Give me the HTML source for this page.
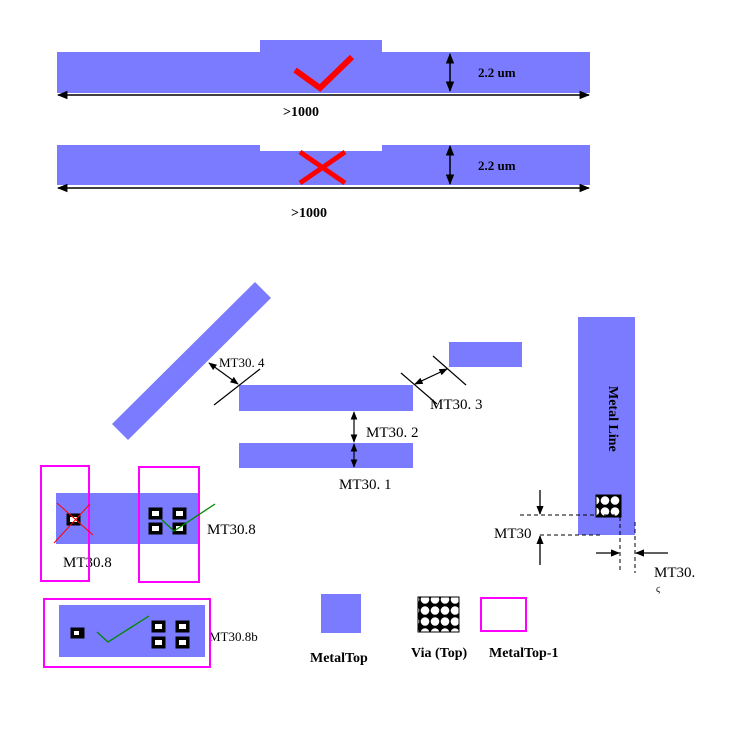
<!DOCTYPE html>
<html><head><meta charset="utf-8"><style>
html,body{margin:0;padding:0;background:#fff;width:730px;height:733px;overflow:hidden}
svg{display:block}
text{font-family:"Liberation Serif",serif}
</style></head><body>
<svg width="730" height="733" viewBox="0 0 730 733" xmlns="http://www.w3.org/2000/svg">
<defs>
<marker id="a" viewBox="0 0 10 10" refX="9" refY="5" markerWidth="7" markerHeight="7" orient="auto-start-reverse"><path d="M0,1 L10,5 L0,9 z" fill="#000"/></marker>
<pattern id="via" x="0" y="0" width="10" height="11" patternUnits="userSpaceOnUse"><rect width="10" height="11" fill="#000"/><circle cx="5" cy="5.5" r="4.3" fill="#fff"/></pattern>
</defs>
<g fill="#7b7bff">
<rect x="57" y="52" width="533" height="41"/>
<rect x="260" y="40" width="122" height="13"/>
<rect x="57" y="145" width="533" height="40"/>
<polygon points="112,424 255,282 271,298 128,440"/>
<rect x="239" y="385" width="174" height="26"/>
<rect x="239" y="443" width="174" height="25"/>
<rect x="449" y="342" width="73" height="25"/>
<rect x="578" y="317" width="57" height="218"/>
<rect x="56" y="493" width="144" height="51"/>
<rect x="59" y="605" width="146" height="52"/>
<rect x="321" y="594" width="40" height="39"/>
</g>
<rect x="260" y="145" width="122" height="6" fill="#fff"/>
<polyline points="295,70 320,88 352,57" fill="none" stroke="#f00" stroke-width="6"/>
<line x1="300" y1="152" x2="345" y2="183" stroke="#f00" stroke-width="5"/>
<line x1="300" y1="183" x2="345" y2="152" stroke="#f00" stroke-width="5"/>
<g stroke="#000" stroke-width="1.5" fill="none">
<line x1="450" y1="54" x2="450" y2="91" marker-start="url(#a)" marker-end="url(#a)"/>
<line x1="58" y1="95" x2="589" y2="95" marker-start="url(#a)" marker-end="url(#a)"/>
<line x1="450" y1="146" x2="450" y2="184" marker-start="url(#a)" marker-end="url(#a)"/>
<line x1="58" y1="188" x2="589" y2="188" marker-start="url(#a)" marker-end="url(#a)"/>
</g>
<g font-weight="bold" font-size="13" fill="#000">
<text x="478" y="77">2.2 um</text><text x="478" y="170">2.2 um</text>
<text x="283" y="116" font-size="14">&gt;1000</text><text x="291" y="217" font-size="14">&gt;1000</text>
</g>
<g stroke="#000" stroke-width="1.2" fill="none">
<line x1="214" y1="405" x2="260" y2="369"/>
<line x1="209" y1="363" x2="238" y2="384" marker-start="url(#a)" marker-end="url(#a)"/>
<line x1="401" y1="373" x2="437" y2="404"/>
<line x1="433" y1="356" x2="466" y2="385"/>
<line x1="415" y1="384" x2="447" y2="369" marker-start="url(#a)" marker-end="url(#a)"/>
<line x1="354" y1="412" x2="354" y2="442" marker-start="url(#a)" marker-end="url(#a)"/>
<line x1="354" y1="444" x2="354" y2="467" marker-start="url(#a)" marker-end="url(#a)"/>
</g>
<g font-size="15" fill="#000">
<text x="219" y="367" font-size="13">MT30. 4</text>
<text x="430" y="409">MT30. 3</text>
<text x="366" y="437">MT30. 2</text>
<text x="339" y="489">MT30. 1</text>
<text x="207" y="534">MT30.8</text>
<text x="63" y="567">MT30.8</text>
<text x="209" y="641" font-size="13">MT30.8b</text>
<text x="494" y="538">MT30</text>
<text x="654" y="577">MT30.</text>
<text x="656" y="592" font-size="10">ϛ</text>
</g>
<text x="0" y="0" font-size="14" font-weight="bold" fill="#000" transform="translate(609,386) rotate(90)">Metal Line</text>
<rect x="596" y="495" width="25" height="22" fill="url(#via)" stroke="#000"/>
<g stroke="#000" stroke-width="1" stroke-dasharray="4,3" fill="none">
<line x1="520" y1="515" x2="620" y2="515"/><line x1="540" y1="535" x2="600" y2="535"/>
<line x1="620" y1="517" x2="620" y2="573"/><line x1="635" y1="522" x2="635" y2="573"/>
</g>
<g stroke="#000" stroke-width="1.3" fill="none">
<line x1="540" y1="490" x2="540" y2="514" marker-end="url(#a)"/>
<line x1="540" y1="565" x2="540" y2="536" marker-end="url(#a)"/>
<line x1="596" y1="553" x2="619" y2="553" marker-end="url(#a)"/>
<line x1="668" y1="553" x2="636" y2="553" marker-end="url(#a)"/>
</g>
<g fill="none" stroke="#f0f" stroke-width="2">
<rect x="41" y="466" width="48" height="115"/>
<rect x="139" y="467" width="60" height="115"/>
<rect x="44" y="599" width="166" height="68"/>
<rect x="481" y="598" width="45" height="33"/>
</g>
<g fill="#000" stroke="#000">
<rect x="67" y="514" width="13" height="11"/>
<rect x="149" y="508" width="13" height="11"/><rect x="173" y="508" width="13" height="11"/>
<rect x="149" y="523" width="13" height="11"/><rect x="173" y="523" width="13" height="11"/>
<rect x="71" y="628" width="13" height="10"/>
<rect x="152" y="621" width="13" height="11"/><rect x="176" y="621" width="13" height="11"/>
<rect x="152" y="637" width="13" height="11"/><rect x="176" y="637" width="13" height="11"/>
</g>
<g fill="#fff">
<rect x="70" y="517" width="7" height="5"/>
<rect x="152" y="511" width="7" height="5"/><rect x="176" y="511" width="7" height="5"/>
<rect x="152" y="526" width="7" height="5"/><rect x="176" y="526" width="7" height="5"/>
<rect x="74" y="631" width="5" height="4"/>
<rect x="155" y="624" width="7" height="5"/><rect x="179" y="624" width="7" height="5"/>
<rect x="155" y="640" width="7" height="5"/><rect x="179" y="640" width="7" height="5"/>
</g>
<line x1="57" y1="503" x2="93" y2="535" stroke="#f00" stroke-width="1"/>
<line x1="54" y1="543" x2="90" y2="504" stroke="#f00" stroke-width="1"/>
<polyline points="162,520 174,531 215,504" fill="none" stroke="#080" stroke-width="1.3"/>
<polyline points="97,632 108,642 149,616" fill="none" stroke="#080" stroke-width="1.3"/>
<rect x="418" y="597" width="41" height="35" fill="url(#via)" stroke="#000"/>
<g font-weight="bold" font-size="14" fill="#000">
<text x="310" y="662">MetalTop</text>
<text x="411" y="657">Via (Top)</text>
<text x="489" y="657">MetalTop-1</text>
</g>
</svg>
</body></html>
